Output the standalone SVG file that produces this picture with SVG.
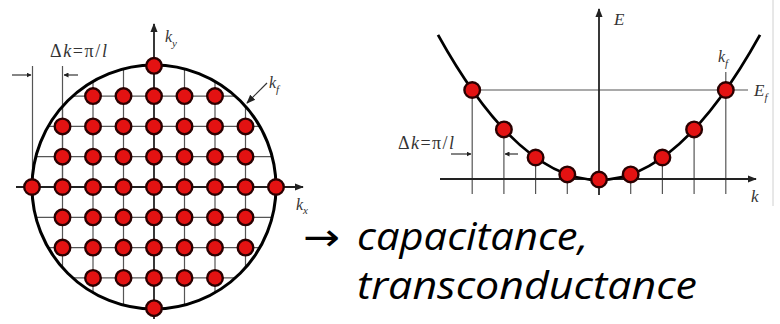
<svg xmlns="http://www.w3.org/2000/svg" xmlns:xlink="http://www.w3.org/1999/xlink" width="780" height="324" viewBox="0 0 780 324">
<style>
.grid{stroke:#555;stroke-width:1.2;fill:none}
.axis{stroke:#222;stroke-width:1.8;fill:none}
.thin{stroke:#333;stroke-width:1.2;fill:none}
.lbl{font-family:"Liberation Serif",serif;font-style:italic;fill:#333}
.up{font-style:normal}
.big{font-family:"Open Sans","DejaVu Sans",sans-serif;font-style:italic;fill:#000}
</style>
<defs>
<marker id="ah" viewBox="0 0 10 10" refX="9" refY="5" markerWidth="5" markerHeight="5" orient="auto" markerUnits="userSpaceOnUse">
<path d="M0,0 L10,5 L0,10 z" fill="#222"/>
</marker>
<marker id="ahBig" viewBox="0 0 10 10" refX="9" refY="5" markerWidth="9" markerHeight="9" orient="auto" markerUnits="userSpaceOnUse">
<path d="M0,1 L10,5 L0,9 z" fill="#222"/>
</marker>
<circle id="dot" r="7.8" fill="#e31212" stroke="#2a0000" stroke-width="2.4"/>
<clipPath id="cc"><circle cx="154" cy="187" r="122"/></clipPath>
</defs>
<rect width="780" height="324" fill="#fff"/>
<line x1="773" y1="0" x2="773" y2="206" stroke="#d0d0d0" stroke-width="1"/>

<g id="connectors">
  <g clip-path="url(#cc)" class="grid">
    <line x1="20" y1="96.1" x2="290" y2="96.1"/>
    <line x1="20" y1="126.4" x2="290" y2="126.4"/>
    <line x1="20" y1="156.7" x2="290" y2="156.7"/>
    <line x1="20" y1="217.3" x2="290" y2="217.3"/>
    <line x1="20" y1="247.6" x2="290" y2="247.6"/>
    <line x1="20" y1="277.9" x2="290" y2="277.9"/>
    <line x1="62.5" y1="50" x2="62.5" y2="320"/>
    <line x1="93" y1="50" x2="93" y2="320"/>
    <line x1="123.5" y1="50" x2="123.5" y2="320"/>
    <line x1="184.5" y1="50" x2="184.5" y2="320"/>
    <line x1="215" y1="50" x2="215" y2="320"/>
    <line x1="245.5" y1="50" x2="245.5" y2="320"/>
  </g>
  <line class="grid" x1="32.5" y1="66" x2="32.5" y2="187"/>
  <line class="grid" x1="62.5" y1="66" x2="62.5" y2="187"/>
  <line class="thin" x1="12" y1="75" x2="31" y2="75" marker-end="url(#ah)"/>
  <line class="thin" x1="78" y1="75" x2="64" y2="75" marker-end="url(#ah)"/>
  <line class="axis" x1="16" y1="187" x2="303" y2="187" marker-end="url(#ahBig)"/>
  <line class="axis" x1="154" y1="319" x2="154" y2="24" marker-end="url(#ahBig)"/>
  <line class="thin" x1="267" y1="83" x2="247" y2="103" marker-end="url(#ahBig)"/>
  <circle cx="154" cy="187" r="122" fill="none" stroke="#000" stroke-width="3"/>

  <g class="grid">
    <line x1="472.2" y1="90" x2="472.2" y2="194"/>
    <line x1="503.9" y1="129.4" x2="503.9" y2="194"/>
    <line x1="535.6" y1="157.5" x2="535.6" y2="194"/>
    <line x1="567.3" y1="174.4" x2="567.3" y2="194"/>
    <line x1="630.7" y1="174.4" x2="630.7" y2="194"/>
    <line x1="662.4" y1="157.5" x2="662.4" y2="194"/>
    <line x1="694.1" y1="129.4" x2="694.1" y2="194"/>
    <line x1="725.8" y1="72" x2="725.8" y2="194"/>
    <line x1="472" y1="90" x2="748" y2="90"/>
  </g>
  <line class="axis" x1="440" y1="179" x2="756" y2="179" marker-end="url(#ahBig)"/>
  <line class="axis" x1="599" y1="195" x2="599" y2="9" marker-end="url(#ahBig)"/>
  <line class="thin" x1="451" y1="154" x2="471" y2="154" marker-end="url(#ah)"/>
  <line class="thin" x1="518" y1="154" x2="505" y2="154" marker-end="url(#ah)"/>
  <path d="M438,34.9 Q599,325.1 760,34.9" fill="none" stroke="#000" stroke-width="2.8"/>
</g>

<g id="left-points">
  <use href="#dot" x="154" y="65.8"/>
  <use href="#dot" x="93" y="96.1"/><use href="#dot" x="123.5" y="96.1"/><use href="#dot" x="154" y="96.1"/><use href="#dot" x="184.5" y="96.1"/><use href="#dot" x="215" y="96.1"/>
  <use href="#dot" x="62.5" y="126.4"/><use href="#dot" x="93" y="126.4"/><use href="#dot" x="123.5" y="126.4"/><use href="#dot" x="154" y="126.4"/><use href="#dot" x="184.5" y="126.4"/><use href="#dot" x="215" y="126.4"/><use href="#dot" x="245.5" y="126.4"/>
  <use href="#dot" x="62.5" y="156.7"/><use href="#dot" x="93" y="156.7"/><use href="#dot" x="123.5" y="156.7"/><use href="#dot" x="154" y="156.7"/><use href="#dot" x="184.5" y="156.7"/><use href="#dot" x="215" y="156.7"/><use href="#dot" x="245.5" y="156.7"/>
  <use href="#dot" x="32" y="187"/><use href="#dot" x="62.5" y="187"/><use href="#dot" x="93" y="187"/><use href="#dot" x="123.5" y="187"/><use href="#dot" x="154" y="187"/><use href="#dot" x="184.5" y="187"/><use href="#dot" x="215" y="187"/><use href="#dot" x="245.5" y="187"/><use href="#dot" x="276" y="187"/>
  <use href="#dot" x="62.5" y="217.3"/><use href="#dot" x="93" y="217.3"/><use href="#dot" x="123.5" y="217.3"/><use href="#dot" x="154" y="217.3"/><use href="#dot" x="184.5" y="217.3"/><use href="#dot" x="215" y="217.3"/><use href="#dot" x="245.5" y="217.3"/>
  <use href="#dot" x="62.5" y="247.6"/><use href="#dot" x="93" y="247.6"/><use href="#dot" x="123.5" y="247.6"/><use href="#dot" x="154" y="247.6"/><use href="#dot" x="184.5" y="247.6"/><use href="#dot" x="215" y="247.6"/><use href="#dot" x="245.5" y="247.6"/>
  <use href="#dot" x="93" y="277.9"/><use href="#dot" x="123.5" y="277.9"/><use href="#dot" x="154" y="277.9"/><use href="#dot" x="184.5" y="277.9"/><use href="#dot" x="215" y="277.9"/>
  <use href="#dot" x="154" y="308.2"/>
</g>

<g id="right-points">
  <use href="#dot" x="472.2" y="90"/>
  <use href="#dot" x="503.9" y="129.4"/>
  <use href="#dot" x="535.6" y="157.5"/>
  <use href="#dot" x="567.3" y="174.4"/>
  <use href="#dot" x="599" y="179.5"/>
  <use href="#dot" x="630.7" y="174.4"/>
  <use href="#dot" x="662.4" y="157.5"/>
  <use href="#dot" x="694.1" y="129.4"/>
  <use href="#dot" x="725.8" y="90"/>
</g>

<g id="labels-left">
  <text class="lbl" x="50" y="57" font-size="18" textLength="57"><tspan class="up">Δ</tspan>k<tspan class="up">=π/</tspan>l</text>
  <text class="lbl" x="165" y="42" font-size="16">k<tspan font-size="11" dy="5">y</tspan></text>
  <text class="lbl" x="269" y="88" font-size="16">k<tspan font-size="11" dy="5">f</tspan></text>
  <text class="lbl" x="296" y="210" font-size="16">k<tspan font-size="11" dy="4">x</tspan></text>
</g>

<g id="labels-right">
  <text class="lbl" x="614" y="25" font-size="17">E</text>
  <text class="lbl" x="398" y="149" font-size="18" textLength="56"><tspan class="up">Δ</tspan>k<tspan class="up">=π/</tspan>l</text>
  <text class="lbl" x="718" y="62" font-size="16">k<tspan font-size="11" dy="5">f</tspan></text>
  <text class="lbl" x="754" y="96" font-size="17">E<tspan font-size="11" dy="5">f</tspan></text>
  <text class="lbl" x="751" y="202" font-size="17">k</text>
</g>

<g id="caption">
  <text x="303" y="250" font-family="'DejaVu Sans',sans-serif" font-size="38" fill="#000" textLength="37" lengthAdjust="spacingAndGlyphs">→</text>
  <text class="big" x="357" y="250" font-size="39" textLength="231" lengthAdjust="spacingAndGlyphs">capacitance,</text>
  <text class="big" x="357" y="299" font-size="39" textLength="340" lengthAdjust="spacingAndGlyphs">transconductance</text>
</g>
</svg>
